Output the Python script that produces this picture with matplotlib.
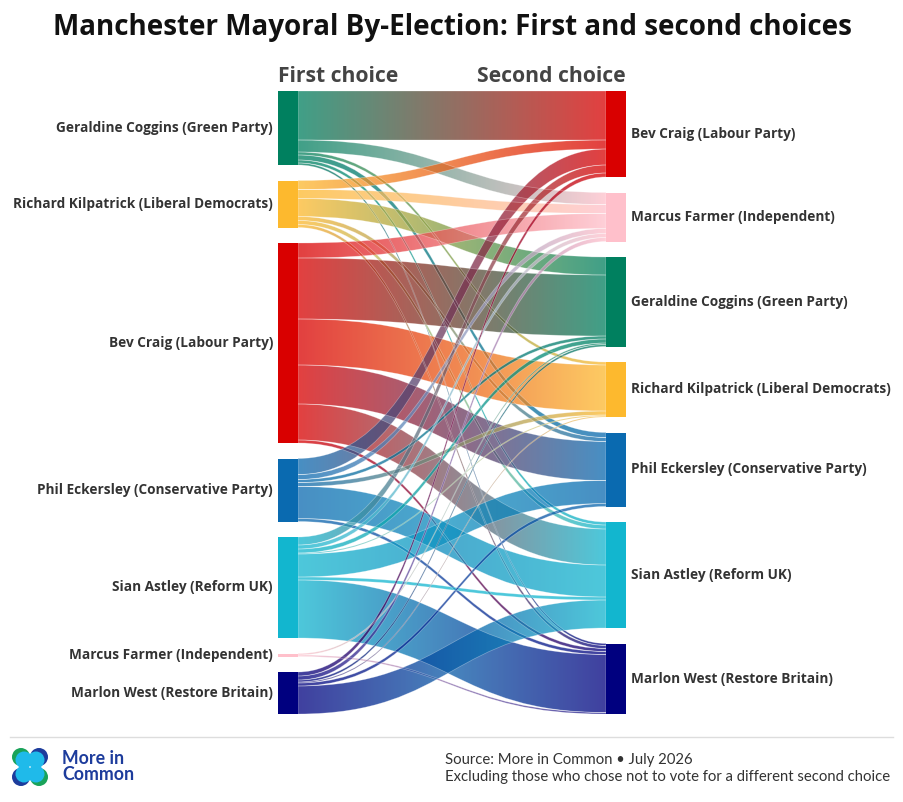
import numpy as np
import matplotlib
matplotlib.use("Agg")
from matplotlib import pyplot as plt
from matplotlib.path import Path
from matplotlib.patches import PathPatch, Rectangle, Circle
from matplotlib.colors import to_rgb

# first choice (left column, top to bottom)
sources = ["Geraldine Coggins (Green Party)", "Richard Kilpatrick (Liberal Democrats)",
           "Bev Craig (Labour Party)", "Phil Eckersley (Conservative Party)",
           "Sian Astley (Reform UK)", "Marcus Farmer (Independent)",
           "Marlon West (Restore Britain)"]
# second choice (right column, top to bottom)
targets = ["Bev Craig (Labour Party)", "Marcus Farmer (Independent)",
           "Geraldine Coggins (Green Party)", "Richard Kilpatrick (Liberal Democrats)",
           "Phil Eckersley (Conservative Party)", "Sian Astley (Reform UK)",
           "Marlon West (Restore Britain)"]

party_colors = {
    "Geraldine Coggins (Green Party)": "#00805F",
    "Richard Kilpatrick (Liberal Democrats)": "#FDB92E",
    "Bev Craig (Labour Party)": "#D90000",
    "Phil Eckersley (Conservative Party)": "#0A6AB0",
    "Sian Astley (Reform UK)": "#12B6CF",
    "Marcus Farmer (Independent)": "#FFC0CB",
    "Marlon West (Restore Britain)": "#00007F",
}

# flows, one row per first choice, columns in `targets` order
green_row = [49, 12, 0, 3, 5, 3, 2]
libdem_row = [9, 9, 18, 0, 4, 4, 3]
labour_row = [0, 15, 61, 46, 39, 36, 3]
con_row = [16, 5, 3, 4, 0, 32, 3]
reform_row = [8, 4, 4, 1, 23, 3, 58]
farmer_row = [0, 0, 1.5, 0, 0, 0, 1.5]
restore_row = [4, 4, 2, 1, 3, 28, 0]

flows = np.array([green_row, libdem_row, labour_row, con_row,
                  reform_row, farmer_row, restore_row], dtype=float)

W, H = 904, 802
top, bottom = 91, 714
x_left, x_right, node_w = 278, 606, 20
min_gap = 15.5
link_alpha = 0.75
bold_font = ["Open Sans", "DejaVu Sans"]
light_font = ["Lato", "DejaVu Sans"]

left_tot = flows.sum(axis=1)
right_tot = flows.sum(axis=0)
scale = (bottom - top - min_gap * (len(sources) - 1)) / max(left_tot.sum(), right_tot.sum())


def stack(totals):
    gap = (bottom - top - totals.sum() * scale) / (len(totals) - 1)
    y0 = []
    y = top
    for t in totals:
        y0.append(y)
        y += t * scale + gap
    return np.array(y0)


left_y = stack(left_tot)
right_y = stack(right_tot)

fig = plt.figure(figsize=(W / 100, H / 100), dpi=100)
ax = fig.add_axes([0, 0, 1, 1])

# at the source links go in target order, at the target in source order
src_off = left_y.copy()
tgt_off = right_y.copy()
src_pos = {}
for i in range(len(sources)):
    for j in range(len(targets)):
        if flows[i, j] > 0:
            src_pos[(i, j)] = src_off[i]
            src_off[i] += flows[i, j] * scale
tgt_pos = {}
for j in range(len(targets)):
    for i in range(len(sources)):
        if flows[i, j] > 0:
            tgt_pos[(i, j)] = tgt_off[j]
            tgt_off[j] += flows[i, j] * scale

xa = x_left + node_w
xb = x_right
xm = (xa + xb) / 2
for (i, j), ya0 in src_pos.items():
    h = flows[i, j] * scale
    yb0 = tgt_pos[(i, j)]
    ya1, yb1 = ya0 + h, yb0 + h
    verts = [(xa, ya0), (xm, ya0), (xm, yb0), (xb, yb0),
             (xb, yb1), (xm, yb1), (xm, ya1), (xa, ya1), (xa, ya0)]
    codes = [Path.MOVETO, Path.CURVE4, Path.CURVE4, Path.CURVE4,
             Path.LINETO, Path.CURVE4, Path.CURVE4, Path.CURVE4, Path.CLOSEPOLY]
    path = Path(verts, codes)
    patch = PathPatch(path, facecolor="none", edgecolor="none")
    ax.add_patch(patch)
    c0 = np.array(to_rgb(party_colors[sources[i]]))
    c1 = np.array(to_rgb(party_colors[targets[j]]))
    t = np.linspace(0, 1, 256)[:, None]
    rgb = c0 * (1 - t) + c1 * t
    grad = np.concatenate([rgb, np.full((256, 1), link_alpha)], axis=1)[None, :, :]
    ymin, ymax = min(ya0, yb0), max(ya1, yb1)
    im = ax.imshow(grad, extent=[xa, xb, ymax, ymin], aspect="auto",
                   interpolation="bilinear", zorder=2)
    im.set_clip_path(patch)
    ax.add_patch(PathPatch(path, facecolor="none", edgecolor=(1, 1, 1, 0.35),
                           lw=0.5, zorder=3))

# nodes and labels
label_kw = dict(fontsize=9.85, fontweight="bold", color="#333333",
                family=bold_font, va="center")
for i, name in enumerate(sources):
    h = left_tot[i] * scale
    ax.add_patch(Rectangle((x_left, left_y[i]), node_w, h,
                           color=party_colors[name], zorder=4, lw=0))
    ax.text(x_left - 5, left_y[i] + h / 2, name, ha="right", **label_kw)
for j, name in enumerate(targets):
    h = right_tot[j] * scale
    ax.add_patch(Rectangle((x_right, right_y[j]), node_w, h,
                           color=party_colors[name], zorder=4, lw=0))
    ax.text(x_right + node_w + 5, right_y[j] + h / 2, name, ha="left", **label_kw)

# titles
ax.text(W / 2, 27, "Manchester Mayoral By-Election: First and second choices",
        ha="center", va="center", fontsize=20, fontweight="bold",
        color="#111111", family=bold_font)
ax.text(x_left, 76, "First choice", ha="left", va="center", fontsize=15.2,
        fontweight="bold", color="#444444", family=bold_font)
ax.text(x_right + node_w, 76, "Second choice", ha="right", va="center",
        fontsize=15.2, fontweight="bold", color="#444444", family=bold_font)

# footer
ax.plot([10, 893], [737, 737], color="#dddddd", lw=1)
logo = [((21, 757), "#1aa35a", (3, 3)), ((39, 757), "#1d3c9c", (-3, 3)),
        ((21, 777), "#1d3c9c", (3, -3)), ((39, 777), "#1aa35a", (-3, -3))]
for (cx, cy), col, (dx, dy) in logo:
    ax.add_patch(Circle((cx, cy), 9, color=col, lw=0, zorder=5))
    ax.add_patch(Circle((cx + dx, cy + dy), 8.5, color="#1fbaea", lw=0, zorder=6))
ax.text(62, 759, "More in", ha="left", va="center", fontsize=12.8,
        fontweight="bold", color="#1d3c9c", family=light_font)
ax.text(62, 775, "Common", ha="left", va="center", fontsize=12.8,
        fontweight="bold", color="#1d3c9c", family=light_font)
ax.text(445, 760, "Source: More in Common \u2022 July 2026", ha="left",
        va="center", fontsize=10.7, color="#333333", family=light_font)
ax.text(445, 777, "Excluding those who chose not to vote for a different second choice",
        ha="left", va="center", fontsize=10.7, color="#333333", family=light_font)

ax.set_xlim(0, W)
ax.set_ylim(H, 0)
ax.axis("off")
fig.savefig("out.png", dpi=100)
